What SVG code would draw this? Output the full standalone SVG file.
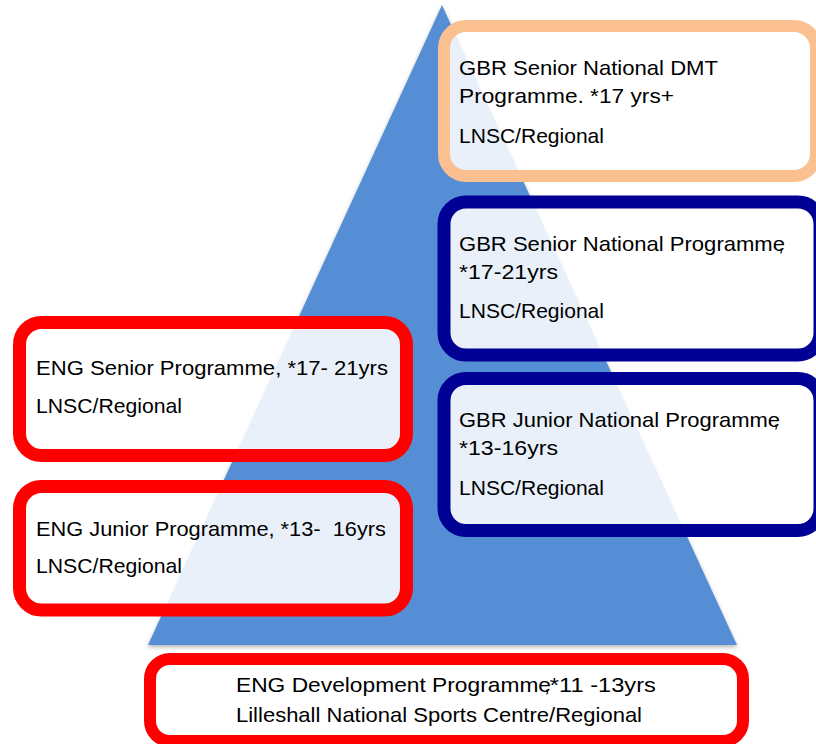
<svg xmlns="http://www.w3.org/2000/svg" width="816" height="744" viewBox="0 0 816 744">
<defs>
<filter id="sh" x="-10%" y="-10%" width="120%" height="120%">
<feDropShadow dx="0" dy="2" stdDeviation="2" flood-color="#000" flood-opacity="0.3"/>
</filter>
<style>
.box{fill:#ffffff;fill-opacity:0.87;}
.red{stroke:#ff0000;}
.navy{stroke:#000095;}
.orange{stroke:#fac090;}
text{font-family:"Liberation Sans",Arial,sans-serif;font-size:21px;fill:#000;}
</style>
</defs>
<rect x="0" y="0" width="816" height="744" fill="#ffffff"/>
<g id="pyramid">
<polygon points="442,5 737,645 148,645" fill="#558ed5" filter="url(#sh)"/>
</g>
<g id="connectors"></g>
<g id="gbr-dmt">
<rect class="box orange" x="444" y="26" width="372" height="150" rx="22" stroke-width="12"/>
<text x="459" y="75" textLength="259" lengthAdjust="spacingAndGlyphs">GBR Senior National DMT</text>
<text x="459" y="103" textLength="215" lengthAdjust="spacingAndGlyphs">Programme. *17 yrs+</text>
<text x="459" y="143" textLength="145" lengthAdjust="spacingAndGlyphs">LNSC/Regional</text>
</g>
<g id="gbr-senior">
<rect class="box navy" x="444" y="202" width="376" height="153" rx="22" stroke-width="13"/>
<text x="459" y="251"><tspan textLength="326" lengthAdjust="spacingAndGlyphs">GBR Senior National Programme</tspan><tspan dx="-7">,</tspan></text>
<text x="459" y="279" textLength="99" lengthAdjust="spacingAndGlyphs">*17-21yrs</text>
<text x="459" y="318" textLength="145" lengthAdjust="spacingAndGlyphs">LNSC/Regional</text>
</g>
<g id="gbr-junior">
<rect class="box navy" x="444" y="378.5" width="376" height="152" rx="22" stroke-width="13"/>
<text x="459" y="427"><tspan textLength="321" lengthAdjust="spacingAndGlyphs">GBR Junior National Programme</tspan><tspan dx="-7">,</tspan></text>
<text x="459" y="455" textLength="99" lengthAdjust="spacingAndGlyphs">*13-16yrs</text>
<text x="459" y="495" textLength="145" lengthAdjust="spacingAndGlyphs">LNSC/Regional</text>
</g>
<g id="eng-senior">
<rect class="box red" x="19.5" y="322.5" width="387" height="133" rx="22" stroke-width="13"/>
<text x="36" y="375" textLength="352" lengthAdjust="spacingAndGlyphs">ENG Senior Programme, *17- 21yrs</text>
<text x="36" y="413" textLength="146" lengthAdjust="spacingAndGlyphs">LNSC/Regional</text>
</g>
<g id="eng-junior">
<rect class="box red" x="19.5" y="486.5" width="387" height="123.5" rx="22" stroke-width="13"/>
<text x="36" y="536" textLength="350" lengthAdjust="spacingAndGlyphs" xml:space="preserve" style="white-space:pre">ENG Junior Programme, *13-  16yrs</text>
<text x="36" y="573" textLength="146" lengthAdjust="spacingAndGlyphs">LNSC/Regional</text>
</g>
<g id="eng-development">
<rect class="box red" x="150" y="659" width="593" height="82" rx="20" stroke-width="12" fill-opacity="1"/>
<text x="236" y="692"><tspan textLength="315" lengthAdjust="spacingAndGlyphs">ENG Development Programme</tspan><tspan dx="-7">,</tspan><tspan textLength="106" lengthAdjust="spacingAndGlyphs">*11 -13yrs</tspan></text>
<text x="236" y="722" textLength="406" lengthAdjust="spacingAndGlyphs">Lilleshall National Sports Centre/Regional</text>
</g>
</svg>
